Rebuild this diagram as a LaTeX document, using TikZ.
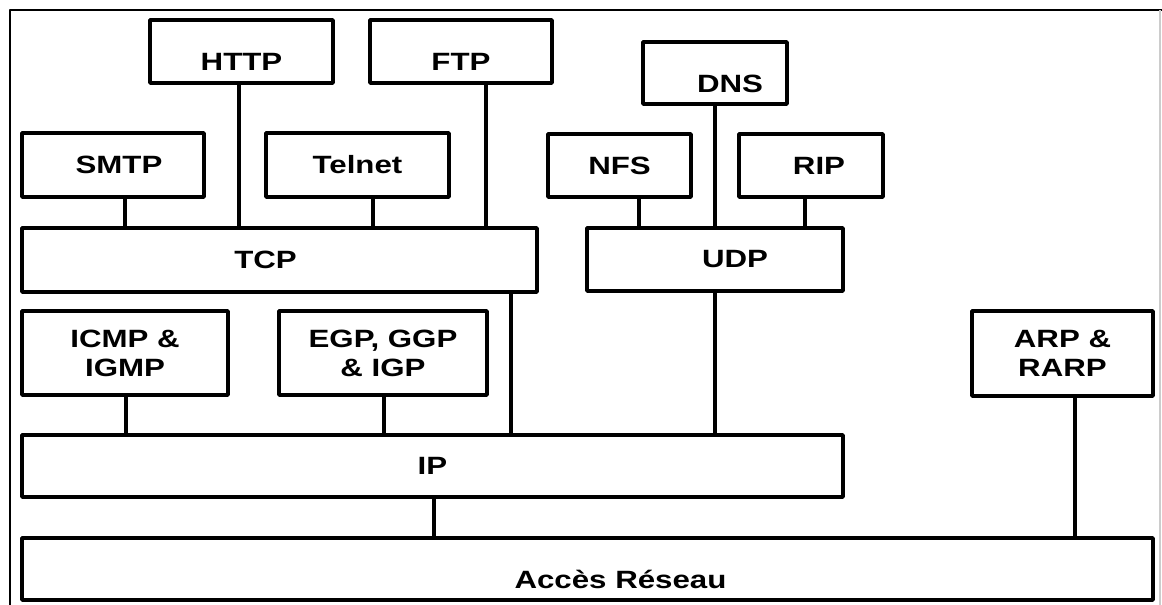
\documentclass[tikz,border=0pt]{standalone}
\usepackage{fontspec}
\newfontfamily\boxfont[FakeStretch=1.25]{Liberation Sans}

\tikzset{
  layer/.style={draw, line width=3.5pt, inner sep=0pt, align=center,
    font=\boxfont\bfseries\fontsize{25}{29}\selectfont},
  low/.style={text height=38pt, text depth=0pt},
  link/.style={line width=3.5pt}
}

\begin{document}
\begin{tikzpicture}[x=1pt,y=-1pt,line join=round]
\useasboundingbox (0,0) rectangle (1162,605);
\draw[line width=2.5pt] (10,605) -- (10,10) -- (1162,10);
\draw[line width=1.5pt,gray!40] (1160,10) -- (1160,605);
% application layer
\node[layer,low,minimum width=183,minimum height=63] (http) at (241.5,51.5) {HTTP};
\node[layer,low,minimum width=182,minimum height=63] (ftp) at (461,51.5) {FTP};
\node[layer,low,minimum width=144,minimum height=62] (dns) at (715,73) {\hspace*{30pt}DNS};
\node[layer,minimum width=182,minimum height=64] (smtp) at (113,165) {\hspace*{12pt}SMTP};
\node[layer,minimum width=183,minimum height=64] (telnet) at (357.5,165) {Telnet};
\node[layer,minimum width=143,minimum height=63] (nfs) at (619.5,165.5) {NFS};
\node[layer,minimum width=144,minimum height=63] (rip) at (811,165.5) {\hspace*{16pt}RIP};
% transport
\node[layer,minimum width=515,minimum height=64] (tcp) at (279.5,260) {TCP\hspace*{28pt}};
\node[layer,minimum width=256,minimum height=63] (udp) at (715,259.5) {\hspace*{40pt}UDP};
% network
\node[layer,minimum width=206,minimum height=84] (icmp) at (125,353) {ICMP \&\\IGMP};
\node[layer,minimum width=208,minimum height=84] (egp) at (383,353) {EGP, GGP\\\& IGP};
\node[layer,minimum width=181,minimum height=85] (arp) at (1062.5,353.5) {ARP \&\\RARP};
\node[layer,minimum width=821,minimum height=62] (ip) at (432.5,466) {IP};
\node[layer,low,minimum width=1131,minimum height=62] (acces) at (587.5,569) {\hspace*{66pt}Accès Réseau};
% links
\foreach \a/\b/\x in {smtp/tcp/125, http/tcp/239, telnet/tcp/373, ftp/tcp/486,
    nfs/udp/639, dns/udp/715, rip/udp/805, tcp/ip/511, udp/ip/715,
    icmp/ip/126, egp/ip/384, ip/acces/434, arp/acces/1075}
  \draw[link] (\a.south -| \x,0) -- (\b.north -| \x,0);
\end{tikzpicture}
\end{document}
